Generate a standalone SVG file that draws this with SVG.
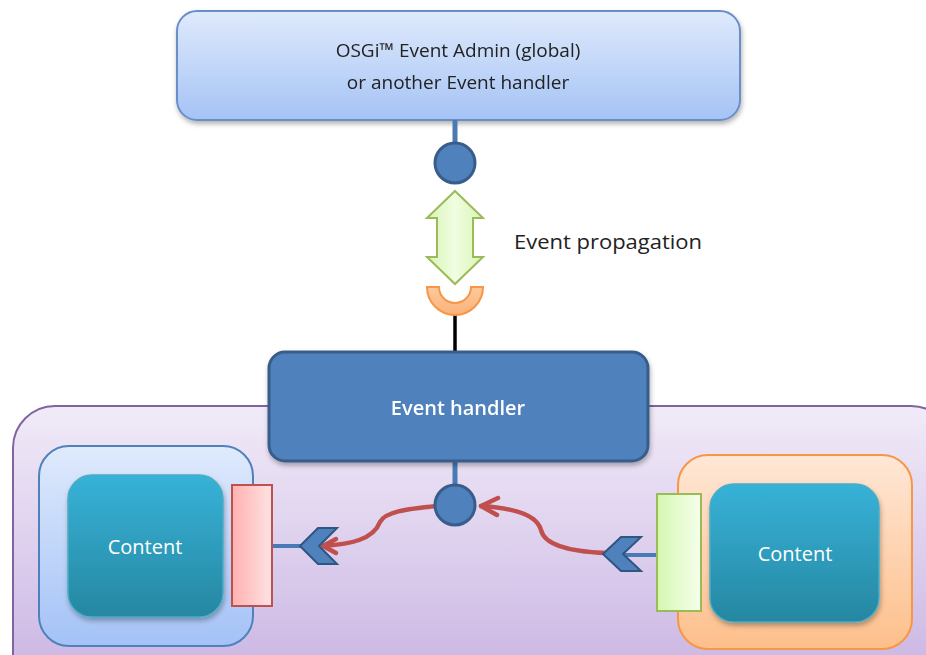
<svg xmlns="http://www.w3.org/2000/svg" width="926" height="655" viewBox="0 0 926 655">
<defs>
<linearGradient id="gTop" x1="0" y1="0" x2="0" y2="1"><stop offset="0" stop-color="#dfeafc"/><stop offset="1" stop-color="#a5c3f5"/></linearGradient>
<linearGradient id="gPurple" x1="0" y1="0" x2="0" y2="1"><stop offset="0" stop-color="#f1ebf8"/><stop offset="1" stop-color="#c8b2e2"/></linearGradient>
<linearGradient id="gBlueBox" x1="0" y1="0" x2="0" y2="1"><stop offset="0" stop-color="#dfeafc"/><stop offset="1" stop-color="#a4c2f7"/></linearGradient>
<linearGradient id="gOrange" x1="0" y1="0" x2="0" y2="1"><stop offset="0" stop-color="#ffe7d6"/><stop offset="1" stop-color="#fdbf8b"/></linearGradient>
<linearGradient id="gContent" x1="0" y1="0" x2="0" y2="1"><stop offset="0" stop-color="#37b2d8"/><stop offset="1" stop-color="#2687a1"/></linearGradient>
<linearGradient id="gRed" x1="0" y1="0" x2="1" y2="0"><stop offset="0" stop-color="#ffb0b0"/><stop offset="1" stop-color="#ffe3e3"/></linearGradient>
<linearGradient id="gGreen" x1="0" y1="0" x2="1" y2="0"><stop offset="0" stop-color="#d5f7b0"/><stop offset="1" stop-color="#f5ffec"/></linearGradient>
<linearGradient id="gArrow" x1="0" y1="0" x2="1" y2="0"><stop offset="0" stop-color="#d8f5b4"/><stop offset="0.5" stop-color="#f0fde2"/><stop offset="1" stop-color="#d8f5b4"/></linearGradient>
<linearGradient id="gCup" x1="0" y1="0" x2="0" y2="1"><stop offset="0" stop-color="#ffc99c"/><stop offset="1" stop-color="#fbb27a"/></linearGradient>
<filter id="sh" x="-10%" y="-10%" width="125%" height="130%"><feDropShadow dx="1" dy="3" stdDeviation="2.5" flood-color="#000" flood-opacity="0.3"/></filter>
</defs>
<style>
.t{font-family:"Open Sans","Liberation Sans",sans-serif;}
.dark{fill:#222;font-size:19px;}
.white{fill:#fff;}
.stub{stroke:#4a7ab5;stroke-width:5;fill:none;}
.port{fill:#4f81bd;stroke:#385d8a;stroke-width:3;}
.chev{fill:#4f81bd;stroke:#2f5584;stroke-width:2;stroke-linejoin:miter;}
.red{stroke:#c0504d;stroke-width:4.5;fill:none;stroke-linecap:round;stroke-linejoin:round;}
</style>
<rect x="0" y="0" width="926" height="655" fill="#fff"/>

<g id="container">
<rect x="13" y="406" width="940" height="290" rx="42" fill="url(#gPurple)" stroke="#8064a2" stroke-width="2"/>
</g>

<g id="top-node" filter="url(#sh)">
<rect x="177" y="11" width="563" height="109" rx="20" fill="url(#gTop)" stroke="#6b8fc6" stroke-width="2"/>
<text class="t dark" x="458" y="57" text-anchor="middle">OSGi™ Event Admin (global)</text>
<text class="t dark" x="458" y="89" text-anchor="middle">or another Event handler</text>
</g>

<g id="connectors">
<line class="stub" x1="455" y1="120" x2="455" y2="146"/>
<line x1="455" y1="315" x2="455" y2="352" stroke="#000" stroke-width="3.5"/>
<line class="stub" x1="455" y1="462" x2="455" y2="488"/>
<line x1="272" y1="546" x2="302" y2="546" stroke="#4a7ab5" stroke-width="4"/>
<line x1="657" y1="555" x2="620" y2="555" stroke="#4a7ab5" stroke-width="4"/>
<path class="red" d="M437,506 C405,509 385,512 380,522 C373,540 350,544 324,546"/>
<path class="red" d="M336,539 L323,546 L336,553"/>
<path class="red" d="M606,553 C580,552 545,548 541,530 C537,515 515,508 481,506"/>
<path class="red" d="M498,498 L481,506 L497,515"/>
</g>

<g id="port-top">
<circle class="port" cx="455" cy="163" r="20"/>
</g>

<g id="event-propagation">
<path d="M455,191 L483,218 L473,218 L473,257 L483,257 L455,284 L427,257 L437,257 L437,218 L427,218 Z" fill="url(#gArrow)" stroke="#9bbb59" stroke-width="2" stroke-linejoin="miter"/>
<text class="t" x="514" y="249" font-size="20" fill="#222" textLength="188" lengthAdjust="spacingAndGlyphs">Event propagation</text>
</g>

<g id="socket">
<path d="M427,287 A28,28 0 0 0 483,287 L471,287 A16,16 0 0 1 439,287 Z" fill="url(#gCup)" stroke="#f79646" stroke-width="2"/>
</g>

<g id="event-handler" filter="url(#sh)">
<rect x="269" y="352" width="379" height="109" rx="16" fill="#4f81bd" stroke="#385d8a" stroke-width="3"/>
<text class="t white" x="458" y="415" text-anchor="middle" font-size="20" font-weight="600">Event handler</text>
</g>

<g id="port-bottom">
<circle class="port" cx="455" cy="505" r="20"/>
</g>

<g id="left-component">
<rect x="39" y="446" width="214" height="200" rx="30" fill="url(#gBlueBox)" stroke="#4f81bd" stroke-width="2"/>
<g filter="url(#sh)">
<rect x="68" y="475" width="155" height="142" rx="24" fill="url(#gContent)" stroke="#4bacc6" stroke-width="1.5"/>
</g>
<text class="t white" x="145" y="554" text-anchor="middle" font-size="20">Content</text>
<rect x="232" y="485" width="40" height="121" fill="url(#gRed)" stroke="#c0504d" stroke-width="2"/>
<path class="chev" d="M300,546 L318,528 L337,528 L319,546 L337,564 L318,564 Z"/>
</g>

<g id="right-component">
<rect x="678" y="455" width="234" height="194" rx="30" fill="url(#gOrange)" stroke="#f79646" stroke-width="2"/>
<g filter="url(#sh)">
<rect x="710" y="484" width="169" height="138" rx="24" fill="url(#gContent)" stroke="#4bacc6" stroke-width="1.5"/>
</g>
<text class="t white" x="795" y="561" text-anchor="middle" font-size="20">Content</text>
<rect x="657" y="494" width="44" height="117" fill="url(#gGreen)" stroke="#9bbb59" stroke-width="2"/>
<path class="chev" d="M603,554 L621,537 L641,537 L623,554 L641,571 L621,571 Z"/>
</g>
</svg>
